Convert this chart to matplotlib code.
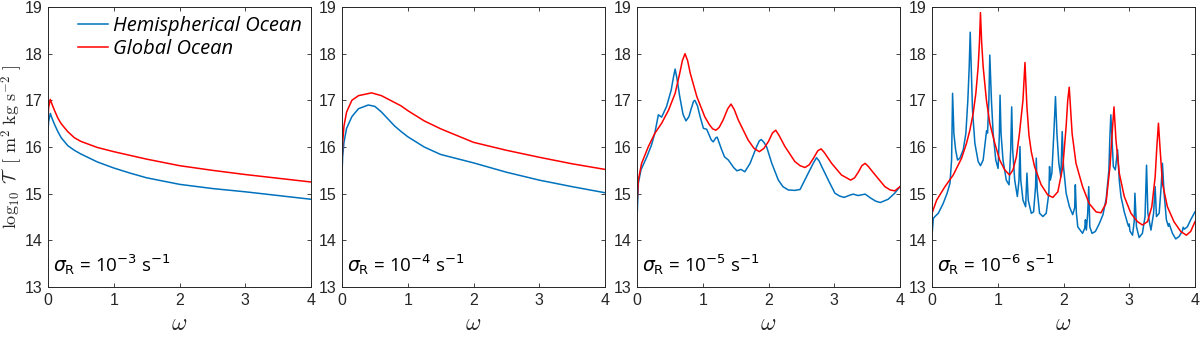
import numpy as np
import matplotlib
matplotlib.use("Agg")
import matplotlib.pyplot as plt

# (omega, log10 T) pairs, one list per curve
p1_hemi = [(0, 16.35), (0.01, 16.55), (0.035, 16.72), (0.06, 16.62), (0.1, 16.48), (0.15, 16.33),
           (0.2, 16.2), (0.3, 16.03), (0.4, 15.93), (0.5, 15.85), (0.75, 15.68), (1, 15.55),
           (1.25, 15.44), (1.5, 15.34), (2, 15.2), (2.5, 15.11), (3, 15.04), (3.5, 14.96), (4, 14.88)]
p1_glob = [(0, 16.62), (0.01, 16.85), (0.035, 17.02), (0.06, 16.92), (0.1, 16.78), (0.15, 16.62),
           (0.2, 16.5), (0.3, 16.33), (0.4, 16.2), (0.5, 16.12), (0.75, 15.99), (1, 15.9),
           (1.5, 15.74), (2, 15.6), (2.5, 15.5), (3, 15.41), (3.5, 15.33), (4, 15.25)]

p2_hemi = [(0, 15.42), (0.01, 15.8), (0.03, 16.1), (0.07, 16.4), (0.15, 16.65), (0.25, 16.82),
           (0.4, 16.9), (0.5, 16.87), (0.6, 16.75), (0.7, 16.6), (0.8, 16.45), (0.9, 16.33),
           (1, 16.22), (1.25, 16.0), (1.5, 15.84), (2, 15.66), (2.5, 15.46), (3, 15.29),
           (3.5, 15.15), (4, 15.02)]
p2_glob = [(0, 15.6), (0.01, 16.1), (0.03, 16.45), (0.07, 16.75), (0.15, 17.0), (0.25, 17.1),
           (0.45, 17.16), (0.6, 17.1), (0.75, 16.99), (0.9, 16.88), (1, 16.78), (1.25, 16.56),
           (1.5, 16.39), (2, 16.1), (2.5, 15.93), (3, 15.78), (3.5, 15.64), (4, 15.52)]

p3_hemi = [(0, 14.43), (0.02, 15.22), (0.06, 15.51), (0.15, 15.79), (0.22, 16.04), (0.27, 16.29),
           (0.325, 16.69), (0.375, 16.64), (0.45, 16.87), (0.52, 17.22), (0.555, 17.5), (0.58, 17.67),
           (0.61, 17.45), (0.65, 17.08), (0.7, 16.7), (0.745, 16.56), (0.79, 16.65), (0.82, 16.8),
           (0.86, 16.98), (0.88, 17.0), (0.92, 16.88), (0.96, 16.65), (1.01, 16.4), (1.06, 16.38),
           (1.13, 16.15), (1.16, 16.11), (1.2, 16.2), (1.22, 16.21), (1.28, 15.97), (1.33, 15.79),
           (1.39, 15.72), (1.47, 15.56), (1.52, 15.49), (1.58, 15.52), (1.64, 15.47), (1.72, 15.65),
           (1.82, 16.01), (1.86, 16.13), (1.89, 16.16), (1.93, 16.1), (1.97, 16.01), (2.05, 15.65),
           (2.15, 15.29), (2.22, 15.15), (2.3, 15.08), (2.4, 15.07), (2.48, 15.09), (2.58, 15.37),
           (2.68, 15.65), (2.73, 15.77), (2.77, 15.7), (2.81, 15.58), (2.91, 15.29), (3.01, 15.01),
           (3.08, 14.95), (3.15, 14.92), (3.24, 14.97), (3.29, 14.99), (3.36, 14.96), (3.47, 14.99),
           (3.56, 14.9), (3.63, 14.84), (3.7, 14.81), (3.82, 14.88), (3.92, 15.01), (4, 15.15)]
p3_glob = [(0, 14.76), (0.02, 15.29), (0.07, 15.65), (0.17, 16.0), (0.27, 16.29), (0.375, 16.51),
           (0.48, 16.79), (0.58, 17.15), (0.65, 17.58), (0.69, 17.85), (0.73, 18.0), (0.77, 17.85),
           (0.81, 17.58), (0.91, 17.08), (1.03, 16.65), (1.1, 16.48), (1.15, 16.39), (1.2, 16.36),
           (1.25, 16.42), (1.31, 16.58), (1.38, 16.82), (1.43, 16.92), (1.48, 16.8), (1.54, 16.58),
           (1.69, 16.15), (1.78, 15.97), (1.86, 15.9), (1.93, 15.97), (2.0, 16.12), (2.06, 16.3),
           (2.11, 16.36), (2.16, 16.25), (2.25, 16.01), (2.4, 15.69), (2.48, 15.6), (2.555, 15.56),
           (2.62, 15.62), (2.68, 15.75), (2.75, 15.92), (2.8, 15.96), (2.85, 15.88), (2.96, 15.65),
           (3.11, 15.4), (3.25, 15.29), (3.31, 15.34), (3.37, 15.47), (3.42, 15.6), (3.47, 15.65),
           (3.52, 15.58), (3.6, 15.44), (3.77, 15.15), (3.85, 15.08), (3.92, 15.06), (4, 15.15)]

p4_hemi = [(0, 14.1), (0.02, 14.47), (0.045, 14.51), (0.096, 14.58), (0.17, 14.79), (0.23, 15.01),
           (0.273, 15.22), (0.298, 15.72), (0.313, 17.15), (0.333, 16.29), (0.359, 15.94), (0.389, 15.72),
           (0.424, 15.76), (0.475, 15.94), (0.515, 16.29), (0.545, 17.0), (0.566, 17.72), (0.581, 18.46),
           (0.596, 17.72), (0.616, 16.79), (0.652, 16.08), (0.702, 15.69), (0.737, 15.6), (0.778, 15.72),
           (0.81, 16.1), (0.83, 16.35), (0.845, 16.3), (0.865, 17.0), (0.879, 17.97), (0.904, 17.0),
           (0.93, 16.29), (0.97, 15.72), (1.005, 15.54), (1.025, 16.29), (1.035, 17.11), (1.05, 16.29),
           (1.08, 15.72), (1.13, 15.29), (1.172, 15.19), (1.197, 15.94), (1.212, 16.86), (1.227, 15.94),
           (1.258, 15.29), (1.298, 14.94), (1.323, 15.29), (1.338, 16.01), (1.35, 15.29), (1.384, 14.86),
           (1.424, 14.72), (1.444, 15.44), (1.464, 14.86), (1.51, 14.58), (1.545, 14.61), (1.575, 15.15),
           (1.586, 15.76), (1.6, 15.08), (1.636, 14.58), (1.687, 14.51), (1.737, 14.58), (1.777, 15.01),
           (1.788, 15.58), (1.8, 15.29), (1.823, 15.44), (1.853, 16.29), (1.878, 17.08), (1.9, 16.29),
           (1.929, 15.65), (1.96, 15.36), (1.98, 16.33), (2.0, 15.58), (2.04, 15.01), (2.09, 14.72),
           (2.14, 14.55), (2.17, 14.7), (2.18, 15.19), (2.195, 14.6), (2.217, 14.29), (2.27, 14.19),
           (2.29, 14.15), (2.323, 14.26), (2.333, 14.44), (2.348, 14.22), (2.368, 14.58), (2.384, 15.15),
           (2.4, 14.29), (2.434, 14.15), (2.485, 14.19), (2.545, 14.36), (2.6, 14.55), (2.65, 14.9),
           (2.69, 15.5), (2.705, 16.2), (2.72, 16.69), (2.74, 16.1), (2.758, 15.58), (2.788, 15.51),
           (2.823, 15.94), (2.848, 15.29), (2.874, 14.94), (2.924, 14.61), (2.975, 14.36), (2.99, 14.3),
           (3.0, 14.35), (3.01, 14.2), (3.05, 14.11), (3.075, 14.4), (3.086, 15.01), (3.11, 14.29),
           (3.15, 14.06), (3.2, 14.15), (3.24, 14.51), (3.263, 15.61), (3.283, 14.58), (3.33, 14.22),
           (3.37, 14.58), (3.394, 15.15), (3.414, 14.51), (3.455, 14.58), (3.485, 15.15), (3.505, 15.65),
           (3.53, 15.01), (3.565, 14.44), (3.595, 14.3), (3.606, 14.36), (3.657, 14.15), (3.707, 14.03),
           (3.757, 14.08), (3.808, 14.2), (3.82, 14.28), (3.838, 14.24), (3.884, 14.29), (3.934, 14.44),
           (4, 14.61)]
p4_glob = [(0, 14.58), (0.07, 14.86), (0.197, 15.15), (0.323, 15.4), (0.45, 15.76), (0.525, 16.08),
           (0.576, 16.36), (0.626, 16.72), (0.667, 17.15), (0.702, 17.72), (0.722, 18.25), (0.737, 18.88),
           (0.755, 18.25), (0.778, 17.72), (0.828, 17.0), (0.879, 16.51), (0.955, 16.08), (1.03, 15.72),
           (1.106, 15.51), (1.18, 15.4), (1.232, 15.51), (1.283, 15.79), (1.33, 16.29), (1.384, 17.01),
           (1.414, 17.81), (1.444, 16.85), (1.475, 16.25), (1.51, 15.9), (1.56, 15.58), (1.66, 15.19),
           (1.762, 14.97), (1.838, 14.92), (1.914, 15.04), (1.99, 15.58), (2.04, 16.44), (2.065, 17.01),
           (2.087, 17.28), (2.106, 16.86), (2.131, 16.29), (2.19, 15.65), (2.29, 15.15), (2.39, 14.79),
           (2.495, 14.61), (2.57, 14.59), (2.646, 14.79), (2.707, 15.58), (2.747, 16.44), (2.768, 16.86),
           (2.798, 16.15), (2.848, 15.44), (2.924, 14.94), (3.025, 14.58), (3.126, 14.4), (3.2, 14.33),
           (3.278, 14.4), (3.343, 14.72), (3.394, 15.36), (3.42, 16.01), (3.444, 16.51), (3.47, 15.94),
           (3.505, 15.22), (3.58, 14.72), (3.68, 14.4), (3.783, 14.19), (3.869, 14.11), (3.934, 14.19),
           (4, 14.4)]

panels = [(p1_hemi, p1_glob, -3), (p2_hemi, p2_glob, -4), (p3_hemi, p3_glob, -5), (p4_hemi, p4_glob, -6)]
lefts = [48, 342, 637, 932]   # pixel left edges of the four boxes

blue = "#0072BD"
red = "#FF0000"
ink = "#262626"

plt.rcParams["font.family"] = ["Liberation Sans", "DejaVu Sans"]

fig = plt.figure(figsize=(12, 3.38), dpi=100)
W, H = 1200, 338

for i, (hemi, glob, expo) in enumerate(panels):
    ax = fig.add_axes([lefts[i] / W, 1 - 287 / H, 263 / W, 280 / H])
    hx, hy = np.array(hemi).T
    gx, gy = np.array(glob).T
    ax.plot(hx, hy, color=blue, lw=1.1, label="Hemispherical Ocean")
    ax.plot(gx, gy, color=red, lw=1.1, label="Global Ocean")

    ax.set_xlim(0, 4)
    ax.set_ylim(13, 19)
    ax.set_xticks([0, 1, 2, 3, 4])
    ax.set_yticks(range(13, 20))
    ax.tick_params(direction="in", length=3, width=0.6, top=True, right=True,
                   labelsize=11.5, colors=ink, pad=4)
    for s in ax.spines.values():
        s.set_color(ink)
        s.set_linewidth(0.7)

    ax.set_xlabel(r"$\omega$", fontsize=17, math_fontfamily="cm", labelpad=4, color=ink)
    ax.text(0.02, 0.055, r"$\sigma_{\mathrm{R}}$ = 10$^{%d}$ s$^{-1}$" % expo,
            transform=ax.transAxes, fontsize=13.5, family="Open Sans",
            math_fontfamily="dejavusans", color="black")

    if i == 0:
        ax.set_ylabel(r"$\log_{10}\ \mathcal{T}\ \ [\ \mathrm{m}^2\ \mathrm{kg\ s}^{-2}\ ]$",
                      fontsize=13, math_fontfamily="cm", color=ink)
        ax.yaxis.set_label_coords(-0.086, 0.5)
        ax.legend(loc="upper right", frameon=False, handlelength=1.5,
                  handletextpad=0.25, borderaxespad=0.05, labelspacing=0.15,
                  prop={"family": "Open Sans", "style": "italic", "size": 14.5})

fig.savefig("out.png", dpi=100)
